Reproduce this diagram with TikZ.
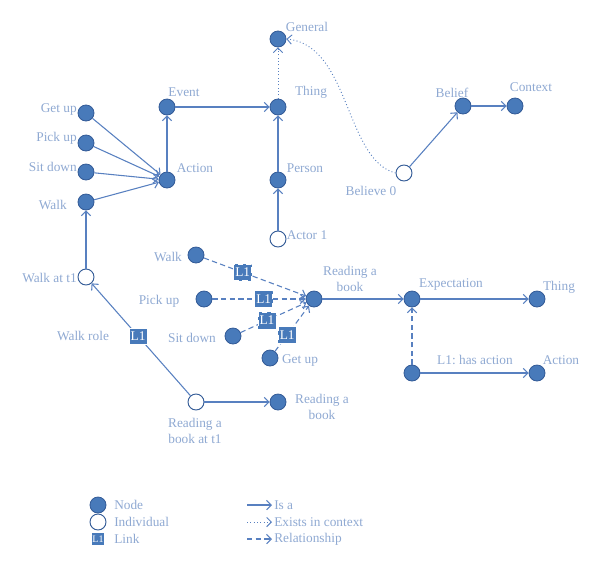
\documentclass[tikz,border=0pt]{standalone}
\usepackage{fontspec}
\setmainfont{Liberation Serif}
\usetikzlibrary{arrows.meta}
\definecolor{txt}{RGB}{143,169,210}
\definecolor{nfill}{RGB}{72,122,186}
\definecolor{ndraw}{RGB}{50,90,150}
\definecolor{edgec}{RGB}{88,128,192}
\begin{document}
\frenchspacing
\begin{tikzpicture}[x=0.75pt,y=-0.75pt,
 nd/.style={circle,fill=nfill,draw=ndraw,line width=0.6pt,minimum size=12pt,inner sep=0pt},
 ind/.style={circle,fill=white,draw=ndraw,line width=0.7pt,minimum size=12pt,inner sep=0pt},
 lnk/.style={rectangle,fill=nfill,draw=white,line width=0.4pt,text=white,minimum width=13.5pt,minimum height=12.5pt,inner sep=0pt,font=\fontsize{10}{11}\selectfont},
 lbl/.style={text=txt,font=\fontsize{10}{11.5}\selectfont,inner sep=0pt,align=center},
 isa/.style={draw=edgec,line width=0.8pt,-{Straight Barb[length=3.5pt,width=7pt]}},
 rel/.style={isa,dash pattern=on 4pt off 2.5pt},
 ctx/.style={draw=edgec,line width=0.7pt,dash pattern=on 0.7pt off 1.8pt,-{Straight Barb[length=3.5pt,width=7pt]}}]
\useasboundingbox (0,0) rectangle (600,569);
% nodes
\node[nd] (gen) at (278,39) {};
\node[nd] (thing) at (278,107) {};
\node[nd] (event) at (167,107) {};
\node[nd] (person) at (278,180) {};
\node[ind] (actor) at (278,239) {};
\node[nd] (getup) at (86,113) {};
\node[nd] (pickup) at (86,143) {};
\node[nd] (sitdown) at (86,172) {};
\node[nd] (walk) at (86,202) {};
\node[nd] (action) at (167,180) {};
\node[nd] (belief) at (463,106) {};
\node[nd] (context) at (515,106) {};
\node[ind] (believe) at (404,173) {};
\node[ind] (walkt) at (86,277) {};
\node[nd] (mwalk) at (196,255) {};
\node[nd] (mpick) at (204,299) {};
\node[nd] (msit) at (233,336) {};
\node[nd] (mget) at (270,358) {};
\node[nd] (rb) at (314,299) {};
\node[nd] (expect) at (412,299) {};
\node[nd] (thingr) at (537,299) {};
\node[nd] (hasact) at (412,373) {};
\node[nd] (actionr) at (537,373) {};
\node[ind] (rbt) at (196,402) {};
\node[nd] (rbb) at (278,402) {};
% labels
\node[lbl] (lgen) at (307,27) {General};
\node[lbl] (lthing) at (311,92) {Thing};
\node[lbl] (levent) at (184,92) {Event};
\node[lbl] (lperson) at (305,168) {Person};
\node[lbl] (lactor) at (307,235) {Actor 1};
\node[lbl,anchor=east] (lgetup) at (77,109) {Get up};
\node[lbl,anchor=east] (lpickup) at (77,138) {Pick up};
\node[lbl,anchor=east] (lsitdown) at (77,167) {Sit down};
\node[lbl,anchor=east] (lwalk) at (67,205) {Walk};
\node[lbl] (laction) at (195,168) {Action};
\node[lbl] (lbelief) at (452,93) {Belief};
\node[lbl] (lcontext) at (531,87) {Context};
\node[lbl] (lbelieve) at (371,191) {Believe 0};
\node[lbl,anchor=east] (lwalkt) at (77,278) {Walk at t1};
\node[lbl] (lwalkrole) at (83,336) {Walk role};
\node[lbl] (lmwalk) at (168,257) {Walk};
\node[lbl] (lmpick) at (159,301) {Pick up};
\node[lbl] (lmsit) at (192,338) {Sit down};
\node[lbl] (lmget) at (300,360) {Get up};
\node[lbl] (lrb) at (350,279) {Reading a\\book};
\node[lbl] (lexpect) at (451,284) {Expectation};
\node[lbl] (lthingr) at (559,287) {Thing};
\node[lbl] (lhasact) at (475,360) {L1: has action};
\node[lbl] (lactionr) at (561,360) {Action};
\node[lbl] (lrbt) at (195,431) {Reading a\\book at t1};
\node[lbl] (lrbb) at (322,407) {Reading a\\book};
% edges
\draw[isa] (getup) -- (action);
\draw[isa] (pickup) -- (action);
\draw[isa] (sitdown) -- (action);
\draw[isa] (walk) -- (action);
\draw[isa] (action) -- (event);
\draw[isa] (event) -- (thing);
\draw[isa] (person) -- (thing);
\draw[isa] (actor) -- (person);
\draw[ctx] (thing) -- (gen);
\draw[ctx] (believe.west) .. controls (345,160) and (350,45) .. (gen.east);
\draw[isa] (believe) -- (belief);
\draw[isa] (belief) -- (context);
\draw[isa] (walkt) -- (walk);
\draw[isa] (rbt) -- node[lnk,pos=0.53] (l5) {L1} (walkt);
\draw[isa] (rbt) -- (rbb);
\draw[rel] (mwalk) -- node[lnk,pos=0.38] (l1) {L1} (rb);
\draw[rel] (mpick) -- node[lnk,pos=0.55] (l2) {L1} (rb);
\draw[rel] (msit) -- node[lnk,pos=0.4] (l3) {L1} (rb);
\draw[rel] (mget) -- node[lnk,pos=0.36] (l4) {L1} (rb);
\draw[isa] (rb) -- (expect);
\draw[isa] (expect) -- (thingr);
\draw[rel] (hasact) -- (expect);
\draw[isa] (hasact) -- (actionr);
% legend
\node[nd] (kn) at (98,505) {};
\node[ind] (ki) at (98,522) {};
\node[lnk,minimum width=10pt,minimum height=10pt,font=\fontsize{7.5}{8}\selectfont] (kl) at (98,539) {L1};
\node[lbl,anchor=west] (tkn) at (114,505) {Node};
\node[lbl,anchor=west] (tki) at (114,522) {Individual};
\node[lbl,anchor=west] (tkl) at (114,539) {Link};
\coordinate (a1) at (247,505); \coordinate (b1) at (272,505);
\coordinate (a2) at (247,522); \coordinate (b2) at (272,522);
\coordinate (a3) at (247,539); \coordinate (b3) at (272,539);
\draw[isa] (a1) -- (b1);
\draw[ctx] (a2) -- (b2);
\draw[rel] (a3) -- (b3);
\node[lbl,anchor=west] (tis) at (274,505) {Is a};
\node[lbl,anchor=west] (tex) at (274,522) {Exists in context};
\node[lbl,anchor=west] (trel) at (274,539) {Relationship};
\end{tikzpicture}
\end{document}
